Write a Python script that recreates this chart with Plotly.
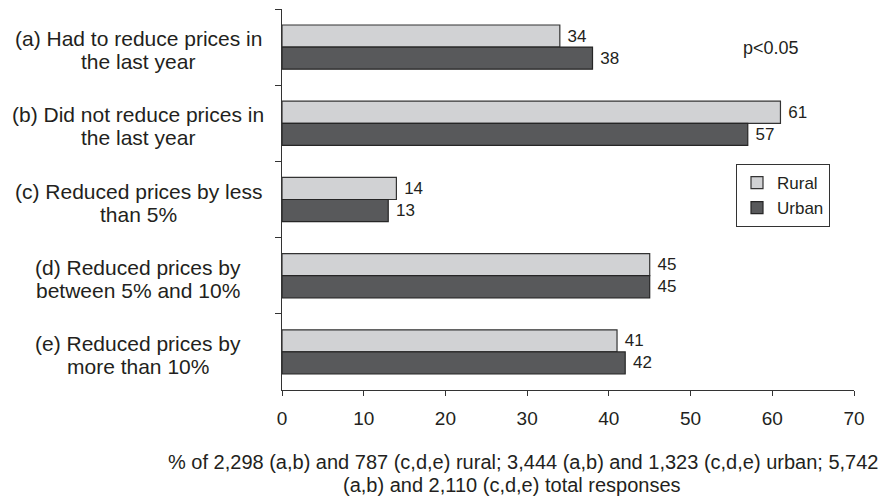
import plotly.graph_objects as go

# Survey answers (percent of responses) by location
categories = [
    "(a) Had to reduce prices in<br>the last year",
    "(b) Did not reduce prices in<br>the last year",
    "(c) Reduced prices by less<br>than 5%",
    "(d) Reduced prices by<br>between 5% and 10%",
    "(e) Reduced prices by<br>more than 10%",
]
rural = [34, 61, 14, 45, 41]
urban = [38, 57, 13, 45, 42]
x_ticks = [0, 10, 20, 30, 40, 50, 60, 70]

FONT = "Liberation Sans, Arial, sans-serif"
INK = "#231f20"

# plot area in pixels
L, R, T, B = 282, 854, 9, 390
W, H = 883, 500


def px_x(p):
    return (p - L) / (R - L)


def px_y(p):
    return (B - p) / (B - T)


fig = go.Figure()
fig.add_trace(go.Bar(
    y=categories, x=rural, name="Rural", orientation="h",
    marker=dict(color="#d1d2d4", line=dict(color="#333333", width=1.2)),
    text=[" " + str(v) for v in rural], textposition="outside",
    textfont=dict(family=FONT, size=17, color=INK), cliponaxis=False,
))
fig.add_trace(go.Bar(
    y=categories, x=urban, name="Urban", orientation="h",
    marker=dict(color="#58595b", line=dict(color="#262626", width=1.2)),
    text=[" " + str(v) for v in urban], textposition="outside",
    textfont=dict(family=FONT, size=17, color=INK), cliponaxis=False,
))

# Category labels, two lines each, centred in the left margin
for cat in categories:
    lines = cat.split("<br>")
    for i, line in enumerate(lines):
        fig.add_annotation(
            text=line, x=px_x(138), xref="paper", y=cat, yref="y",
            xanchor="center", yanchor="middle", showarrow=False,
            yshift=(11.5 - 23 * i) - 3,
            font=dict(family=FONT, size=21, color=INK),
        )

fig.add_annotation(
    text="p<0.05", x=px_x(771), xref="paper", y=px_y(48), yref="paper",
    xanchor="center", yanchor="middle", showarrow=False,
    font=dict(family=FONT, size=18, color=INK),
)

# Axis caption
fig.add_annotation(
    text="% of 2,298 (a,b) and 787 (c,d,e) rural; 3,444 (a,b) and 1,323 (c,d,e) urban; 5,742",
    x=px_x(880), xref="paper", y=px_y(462), yref="paper",
    xanchor="right", yanchor="middle", showarrow=False,
    font=dict(family=FONT, size=20, color=INK),
)
fig.add_annotation(
    text="(a,b) and 2,110 (c,d,e) total responses",
    x=px_x(512), xref="paper", y=px_y(485), yref="paper",
    xanchor="center", yanchor="middle", showarrow=False,
    font=dict(family=FONT, size=20, color=INK),
)

fig.update_layout(
    width=W, height=H,
    margin=dict(l=L, r=W - R, t=T, b=H - B),
    paper_bgcolor="white", plot_bgcolor="white",
    barmode="group", bargap=0.42, bargroupgap=0,
    font=dict(family=FONT, size=17, color=INK),
    showlegend=True,
    legend=dict(
        x=px_x(736), y=px_y(164), xanchor="left", yanchor="top",
        bordercolor="#333", borderwidth=1, bgcolor="white",
        font=dict(family=FONT, size=17, color=INK),
        tracegroupgap=0, itemwidth=30,
    ),
    xaxis=dict(
        range=[0, 70], tickvals=x_ticks, ticktext=[str(t) for t in x_ticks],
        showgrid=False, zeroline=False, showline=True, linecolor="#333", linewidth=1,
        ticks="outside", ticklen=5, tickcolor="#333", ticklabelstandoff=6,
        tickfont=dict(family=FONT, size=19, color=INK),
    ),
    yaxis=dict(
        autorange="reversed", showgrid=False, zeroline=False,
        showline=True, linecolor="#333", linewidth=1,
        ticks="outside", ticklen=6, tickcolor="#333", tickson="boundaries",
        showticklabels=False,
    ),
)

fig.write_html("out.html")
